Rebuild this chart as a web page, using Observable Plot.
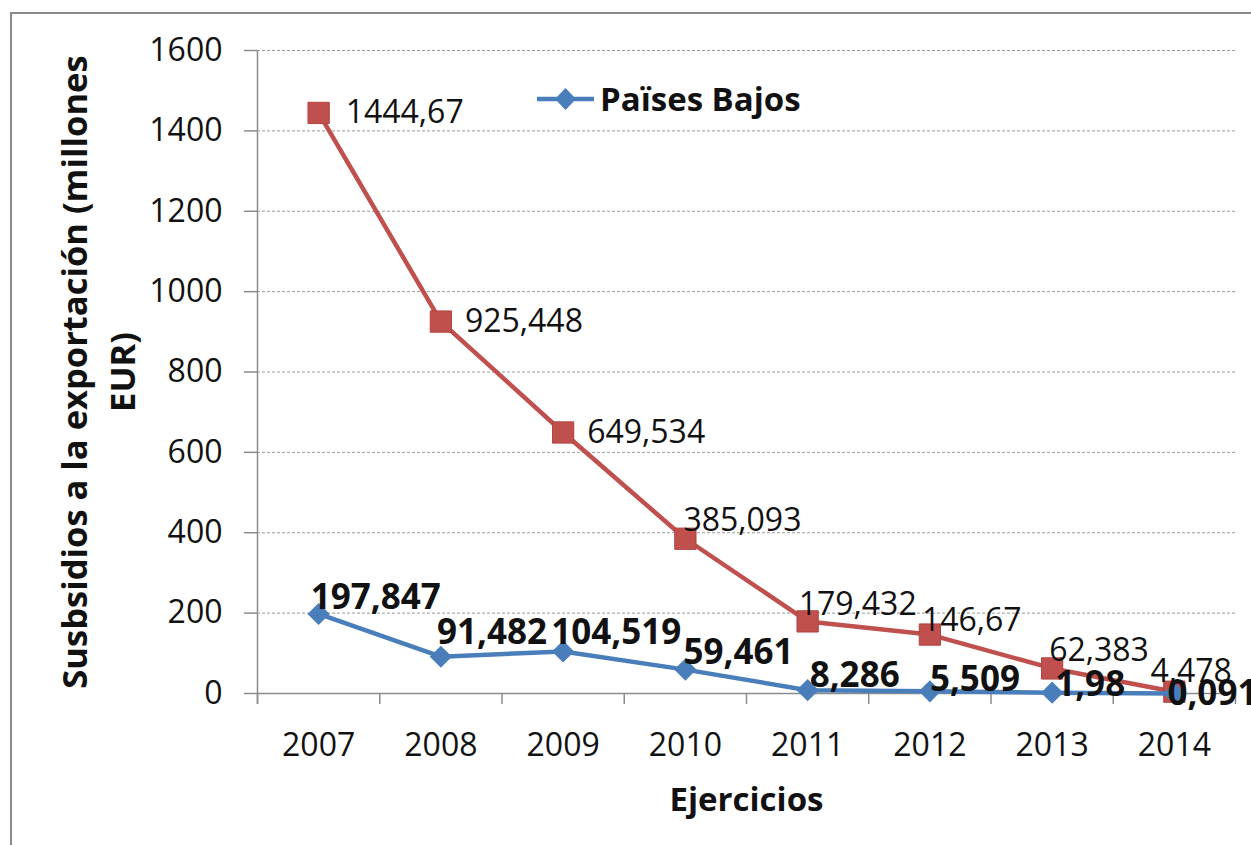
<!DOCTYPE html>
<html><head><meta charset="utf-8">
<script src="https://cdn.jsdelivr.net/npm/d3@7"></script>
<script src="https://cdn.jsdelivr.net/npm/@observablehq/plot@0.6"></script>
<style>
body{margin:0;background:#fff;overflow:hidden;}
#wrap{position:relative;width:1251px;height:845px;overflow:hidden;}
#frame{position:absolute;left:10px;top:12px;width:1300px;height:900px;border:2px solid #8a8a8a;box-sizing:border-box;}
#chart{position:absolute;left:0;top:0;}
#legend{position:absolute;left:537px;top:76px;display:flex;align-items:center;font:bold 33px "Open Sans";color:#111;}
#legend svg{margin-right:6px;}
</style></head>
<body><div id="wrap"><div id="frame"></div><div id="chart"></div>
<div id="legend"><svg width="57" height="24"><line x1="0" y1="12" x2="57" y2="12" stroke="#4A7EBB" stroke-width="4.5"/><path d="M28.5,1 L39,12 L28.5,23 L18,12Z" fill="#4A7EBB"/></svg><span>Païses Bajos</span></div>
</div>
<script>
const years = [2007, 2008, 2009, 2010, 2011, 2012, 2013, 2014];
const paisesBajos = [197.847, 91.482, 104.519, 59.461, 8.286, 5.509, 1.98, 0.091];
const serieRoja = [1444.67, 925.448, 649.534, 385.093, 179.432, 146.67, 62.383, 4.478];
const yTicks = [0, 200, 400, 600, 800, 1000, 1200, 1400, 1600];
const seriesName = "Païses Bajos";
const yTitle = "Susbsidios a la exportación (millones\nEUR)";
const xTitle = "Ejercicios";

// label placement (pixels), style only
const redOffsets = [[27,0],[24,0],[24,0],[-2,-18],[-9,-17],[-8,-14],[-3,-18],[-24,-20]];
const blueOffsets = [[-8,-16],[-4,-24],[-12,-19],[-2,-17],[2,-14],[0,-11],[3,-8],[-7,0]];

const fmt = v => String(v).replace(".", ",");
const blue = years.map((x, i) => ({x, y: paisesBajos[i]}));
const red = years.map((x, i) => ({x, y: serieRoja[i]}));
const bounds = years.map(y => y - 0.5).concat([years[years.length - 1] + 0.5]);

const BLUE = "#4A7EBB", RED = "#C0504D", GRAY = "#8c8c8c";
const FONT = "Open Sans";

const chart = Plot.plot({
  width: 1251, height: 845,
  marginLeft: 257, marginRight: 16, marginTop: 50, marginBottom: 152,
  style: {fontFamily: FONT, background: "transparent", overflow: "visible"},
  x: {domain: [bounds[0], bounds[bounds.length - 1]]},
  y: {domain: [0, 1600]},
  marks: [
    Plot.ruleY(yTicks.filter(v => v > 0), {stroke: "#9a9a9a", strokeDasharray: "3,2", strokeWidth: 1}),
    Plot.axisY({ticks: yTicks, tickSize: 13, tickFormat: () => "", label: null, stroke: GRAY, strokeWidth: 1.5}),
    Plot.axisY({ticks: yTicks, tickSize: 0, tickPadding: 35, fontSize: 32, fill: "#111", label: null, tickFormat: d => String(d)}),
    Plot.axisX({ticks: bounds, tickSize: 11, tickFormat: () => "", label: null, stroke: GRAY, strokeWidth: 1.5}),
    Plot.axisX({ticks: years, tickSize: 0, tickPadding: 40, fontSize: 32, fill: "#111", label: null, tickFormat: d => String(d)}),
    Plot.ruleY([0], {stroke: GRAY, strokeWidth: 1.5}),
    Plot.ruleX([bounds[0]], {stroke: GRAY, strokeWidth: 1.5, insetBottom: -11}),
    Plot.line(red, {x: "x", y: "y", stroke: RED, strokeWidth: 4.5}),
    Plot.dot(red, {x: "x", y: "y", symbol: "square", r: 12, fill: RED, stroke: "#b3433f", strokeWidth: 1}),
    Plot.line(blue, {x: "x", y: "y", stroke: BLUE, strokeWidth: 4.5}),
    Plot.dot(blue, {x: "x", y: "y", symbol: "diamond2", r: 10, fill: BLUE}),
    ...red.map((d, i) => Plot.text([d], {x: "x", y: "y", text: d => fmt(d.y), textAnchor: "start", lineAnchor: "middle",
      dx: redOffsets[i][0], dy: redOffsets[i][1], fontSize: 32, fill: "#111"})),
    ...blue.map((d, i) => Plot.text([d], {x: "x", y: "y", text: d => fmt(d.y), textAnchor: "start", lineAnchor: "middle",
      dx: blueOffsets[i][0], dy: blueOffsets[i][1], fontSize: 35, fontWeight: "bold", fill: "#111"})),
    Plot.text([yTitle], {frameAnchor: "left", rotate: -90, dx: -162, fontSize: 34.5, fontWeight: "bold", lineHeight: 1.39,
      textAnchor: "middle", lineAnchor: "middle", fill: "#111"}),
    Plot.text([xTitle], {frameAnchor: "bottom", dy: 107, fontSize: 33, fontWeight: "bold", lineAnchor: "middle", fill: "#111"})
  ]
});
document.getElementById("chart").appendChild(chart);
</script>
</body></html>
